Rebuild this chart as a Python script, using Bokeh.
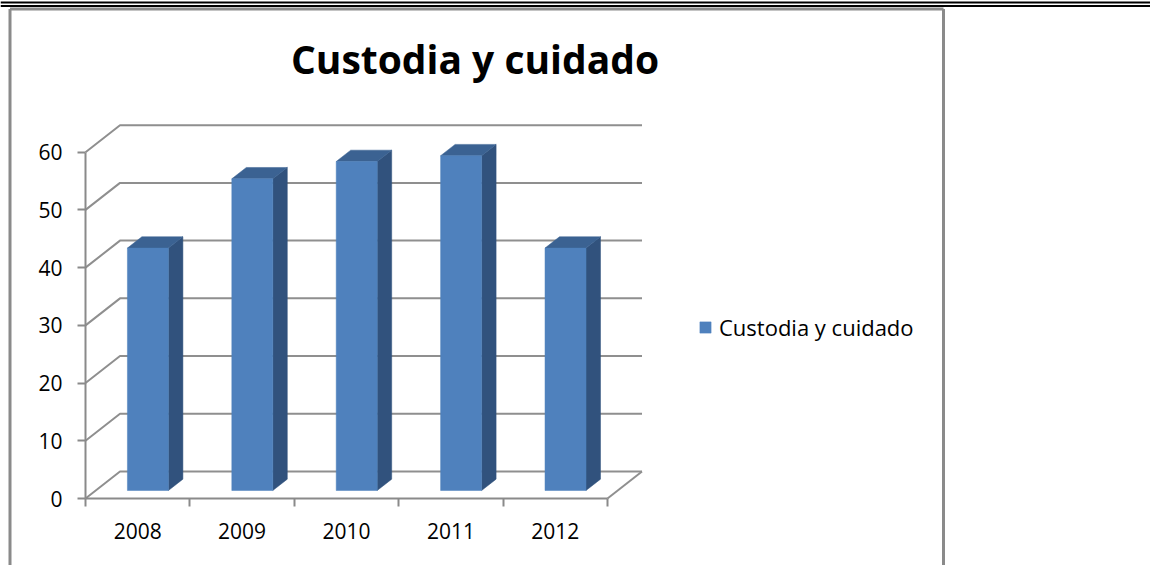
from bokeh.plotting import figure
from bokeh.models import Range1d, LinearAxis, FixedTicker, Label, Legend, LegendItem
from bokeh.embed import file_html
from bokeh.resources import INLINE

# ---------------- data ----------------
categories = ["2008", "2009", "2010", "2011", "2012"]
values = [42, 54, 57, 58, 42]
y_ticks = [0, 10, 20, 30, 40, 50, 60]
series_name = "Custodia y cuidado"
title_text = "Custodia y cuidado"

# ---------------- layout constants (page pixels) ----------------
PAGE_OFF = 0
W, H = 1150, 565
AX_X = 85.0      # page x of the value axis
AX_Y = 498.0     # page y of value 0 on the front plane
CAT_PX = 104.4   # pixels per category
UNIT_PX = 5.772  # pixels per value unit
DEPTH_DX = 34.5 / CAT_PX
DEPTH_DY = 27.0 / UNIT_PX
D1, D2 = 0.296, 0.716          # bar depth (fraction of floor depth)
HALF_W = 20.5 / CAT_PX

FONT = "Open Sans"
GRID_C = "#8f8f8f"
AXIS_C = "#8a8a8a"
FRONT_C = "#4f81bd"
SIDE_C = "#31527d"
TOP_C = "#3b6292"


def dx(X):
    return (X - AX_X) / CAT_PX


def dy(Y):
    return (AX_Y - Y) / UNIT_PX


p = figure(width=W, height=H, output_backend="svg", toolbar_location=None,
           x_range=Range1d(dx(PAGE_OFF), dx(PAGE_OFF + W)),
           y_range=Range1d(dy(PAGE_OFF + H), dy(PAGE_OFF)),
           x_axis_type=None, y_axis_type=None,
           min_border=0, min_border_left=0, min_border_right=0,
           min_border_top=0, min_border_bottom=0)
p.outline_line_color = None
p.background_fill_color = "white"
p.border_fill_color = "white"

n = len(categories)

# frame decorations (top double rule, chart box)
p.segment(x0=[dx(0), dx(0)], y0=[dy(2), dy(5.5)], x1=[dx(1150), dx(1150)], y1=[dy(2), dy(5.5)],
          line_color="black", line_width=2)
p.segment(x0=[dx(9.5), dx(943), dx(9.5)], y0=[dy(8.5), dy(8.5), dy(8.5)],
          x1=[dx(9.5), dx(943), dx(943)], y1=[dy(565), dy(565), dy(8.5)],
          line_color="#8a8a8a", line_width=3)

# back wall gridlines with side-wall diagonals
gx, gy = [], []
for t in y_ticks:
    gx.append([0, DEPTH_DX, n + DEPTH_DX])
    gy.append([t, t + DEPTH_DY, t + DEPTH_DY])
p.multi_line(gx, gy, line_color=GRID_C, line_width=2)
# floor right edge
p.line([n, n + DEPTH_DX], [0, DEPTH_DY], line_color=GRID_C, line_width=2)

# bars
lefts, rights, bottoms, tops = [], [], [], []
side_x, side_y, top_x, top_y = [], [], [], []
ddx = (D2 - D1) * DEPTH_DX
ddy = (D2 - D1) * DEPTH_DY
for i, v in enumerate(values):
    cx = i + 0.5
    L = cx - HALF_W + D1 * DEPTH_DX
    R = cx + HALF_W + D1 * DEPTH_DX
    B = D1 * DEPTH_DY
    T = v + D1 * DEPTH_DY
    lefts.append(L); rights.append(R); bottoms.append(B); tops.append(T)
    side_x.append([R, R, R + ddx, R + ddx])
    side_y.append([B, T, T + ddy, B + ddy])
    top_x.append([L, R, R + ddx, L + ddx])
    top_y.append([T, T, T + ddy, T + ddy])

p.patches(side_x, side_y, fill_color=SIDE_C, line_color=SIDE_C, line_width=0.5)
p.patches(top_x, top_y, fill_color=TOP_C, line_color=TOP_C, line_width=0.5)
front = p.quad(left=lefts, right=rights, bottom=bottoms, top=tops,
               fill_color=FRONT_C, line_color=FRONT_C, line_width=0.5)

# value axis
yaxis = LinearAxis(fixed_location=0, bounds=(0, 60),
                   ticker=FixedTicker(ticks=y_ticks, minor_ticks=[]))
yaxis.axis_line_color = AXIS_C
yaxis.axis_line_width = 2
yaxis.major_tick_line_color = AXIS_C
yaxis.major_tick_line_width = 2
yaxis.major_tick_out = 8
yaxis.major_tick_in = 0
yaxis.minor_tick_out = 0
yaxis.minor_tick_in = 0
yaxis.major_label_text_font = FONT
yaxis.major_label_text_font_size = "21px"
yaxis.major_label_text_color = "black"
yaxis.major_label_standoff = 15
p.add_layout(yaxis, "left")

# category axis
xaxis = LinearAxis(fixed_location=0, bounds=(0, n),
                   ticker=FixedTicker(ticks=[i + 0.5 for i in range(n)],
                                      minor_ticks=list(range(n + 1))))
xaxis.major_label_overrides = {i + 0.5: c for i, c in enumerate(categories)}
xaxis.axis_line_color = AXIS_C
xaxis.axis_line_width = 2
xaxis.major_tick_out = 0
xaxis.major_tick_in = 0
xaxis.minor_tick_line_color = AXIS_C
xaxis.minor_tick_line_width = 2
xaxis.minor_tick_out = 8
xaxis.minor_tick_in = 0
xaxis.major_label_text_font = FONT
xaxis.major_label_text_font_size = "21px"
xaxis.major_label_text_color = "black"
xaxis.major_label_standoff = 16
p.add_layout(xaxis, "below")

# title
p.add_layout(Label(x=dx(474.5), y=dy(58), text=title_text, text_align="center",
                   text_baseline="alphabetic", text_font=FONT, text_font_style="bold",
                   text_font_size="39px", text_color="black"))

# legend
legend = Legend(items=[LegendItem(label=series_name, renderers=[front])],
                location=(698, 223), padding=0, margin=0, spacing=0,
                glyph_width=14, glyph_height=14, label_standoff=7,
                label_text_font=FONT, label_text_font_size="22px",
                label_text_color="black",
                border_line_alpha=0, background_fill_alpha=0)
p.add_layout(legend)

open("out.html", "w").write(file_html(p, INLINE))
